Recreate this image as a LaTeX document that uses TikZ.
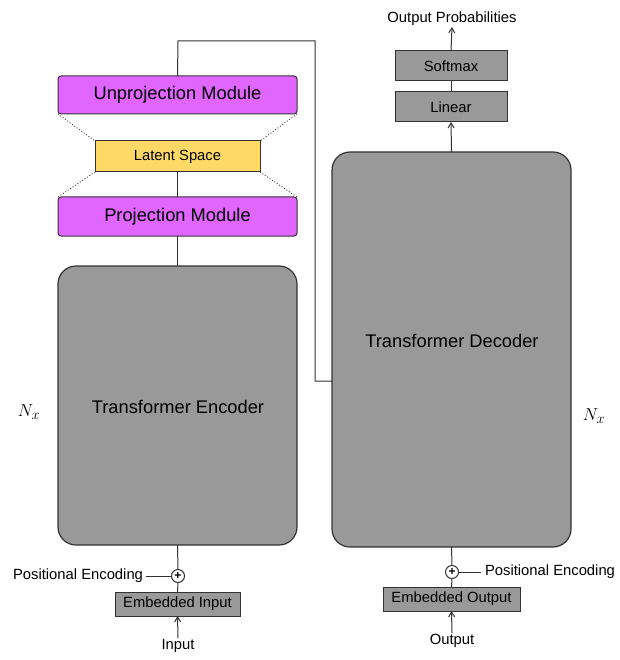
\documentclass[tikz,border=0pt]{standalone}
\usepackage{fontspec}
\setmainfont{Liberation Sans}
\usetikzlibrary{arrows.meta}
\definecolor{projfill}{HTML}{E066FF}
\definecolor{latentfill}{HTML}{FFD966}
\definecolor{blockfill}{HTML}{999999}
\definecolor{edge}{HTML}{333333}
\tikzset{
  every node/.style={inner sep=0pt, outer sep=0pt},
  projbox/.style={draw=edge, line width=1pt, fill=projfill, rounded corners=3pt,
    minimum width=239pt, font=\fontsize{18.3}{20}\selectfont},
  latentbox/.style={draw=edge, line width=1pt, fill=latentfill,
    minimum width=165pt, minimum height=31pt, font=\fontsize{14.8}{17}\selectfont},
  bigblock/.style={draw=edge, line width=1.2pt, fill=blockfill, rounded corners=18pt,
    minimum width=239pt},
  smallbox/.style={draw=edge, line width=1pt, fill=blockfill, font=\fontsize{14.8}{17}\selectfont},
  lbl/.style={font=\fontsize{14.8}{17}\selectfont},
  bigtext/.style={font=\fontsize{18.3}{20}\selectfont},
  nlabel/.style={font=\fontsize{19}{21}\selectfont},
  plus/.style={draw=edge, line width=1pt, fill=white, circle, minimum size=13pt},
  plussign/.style={font=\fontsize{12}{12}\selectfont\bfseries},
  wire/.style={draw=edge, line width=1pt},
  arrowwire/.style={wire, -{Straight Barb[length=5pt, width=6pt, line width=1pt]}},
  dots/.style={draw=edge, line width=0.9pt, dotted},
}
\begin{document}
\begin{tikzpicture}[x=1pt, y=-1pt]
  \useasboundingbox (0,0) rectangle (619,660);

  % encoder side
  \node[projbox, minimum height=38pt] (unproj) at (177.5,95) {Unprojection Module};
  \node[latentbox] (latent) at (177.5,156.5) {Latent Space};
  \node[projbox, minimum height=39pt] (proj) at (177.5,216.5) {Projection Module};
  \node[bigblock, minimum height=279pt] (enc) at (177.5,405.5) {};
  \node[bigtext] (enctext) at (178,407) {Transformer Encoder};
  \node[plus] (encadd) at (178,576) {};
  \node[plussign] (encplus) at (encadd) {+};
  \node[smallbox, minimum width=125pt, minimum height=24pt] (embin) at (177.5,604) {Embedded Input};
  \node[lbl, anchor=east, inner sep=3pt] (posenc) at (146,576) {Positional Encoding};
  \node[lbl, anchor=north, inner sep=1pt] (input) at (178,638) {Input};
  \node[nlabel] (nleft) at (29,412) {$N_x$};

  % decoder side
  \node[bigblock, minimum height=395pt] (dec) at (451.5,349.5) {};
  \node[bigtext] (dectext) at (452,341) {Transformer Decoder};
  \node[smallbox, minimum width=112pt, minimum height=30pt] (linear) at (451,107) {Linear};
  \node[smallbox, minimum width=112pt, minimum height=30pt] (softmax) at (451,66) {Softmax};
  \node[lbl, anchor=south, inner sep=1pt] (outprob) at (452,27) {Output Probabilities};
  \node[plus] (decadd) at (452,572) {};
  \node[plussign] (decplus) at (decadd) {+};
  \node[smallbox, minimum width=137pt, minimum height=24pt] (embout) at (451.5,599) {Embedded Output};
  \node[lbl, anchor=west, inner sep=4pt] (posencd) at (481,572) {Positional Encoding};
  \node[lbl, anchor=north, inner sep=1pt] (output) at (452,633) {Output};
  \node[nlabel] (nright) at (594,416) {$N_x$};

  % bottleneck outline
  \draw[dots] (unproj.south west) -- (latent.north west);
  \draw[dots] (unproj.south east) -- (latent.north east);
  \draw[dots] (latent.south west) -- (proj.north west);
  \draw[dots] (latent.south east) -- (proj.north east);

  % encoder wiring
  \draw[wire] (enc.north) -- (proj.south);
  \draw[wire] (proj.north) -- (latent.south);
  \coordinate (turnA) at (178,41);
  \coordinate (turnB) at (315,41);
  \coordinate (turnC) at (315,381);
  \draw[wire] (unproj.north) -- (turnA) -- (turnB) -- (turnC) -- (turnC -| dec.west);
  \draw[wire] (enc.south) -- (encadd.north);
  \draw[wire] (encadd.south) -- (embin.north);
  \draw[wire] (posenc.east) -- (encadd.west);
  \draw[arrowwire] (input.north) -- (embin.south);

  % decoder wiring
  \draw[wire] (dec.south) -- (decadd.north);
  \draw[wire] (decadd.south) -- (embout.north);
  \draw[wire] (decadd.east) -- (posencd.west);
  \draw[arrowwire] (output.north) -- (embout.south);
  \draw[arrowwire] (dec.north) -- (linear.south);
  \draw[wire] (linear.north) -- (softmax.south);
  \draw[arrowwire] (softmax.north) -- (outprob.south);
\end{tikzpicture}
\end{document}
